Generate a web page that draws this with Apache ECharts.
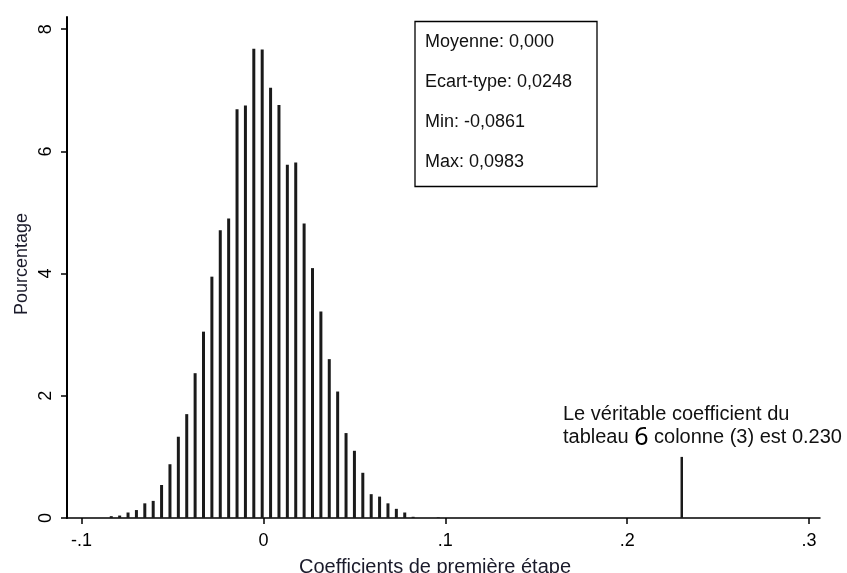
<!DOCTYPE html>
<html><head><meta charset="utf-8">
<script src="https://cdn.jsdelivr.net/npm/echarts@6/dist/echarts.min.js"></script>
<style>html,body{margin:0;padding:0;background:#fff}#c{width:847px;height:573px}</style>
</head><body><div id="c"></div>
<script>
// Histogram bin centres (40 bins between -0.0861 and 0.0983)
const binCenters = [-0.08380,-0.07919,-0.07458,-0.06997,-0.06536,-0.06075,-0.05614,-0.05153,-0.04692,-0.04231,
  -0.03770,-0.03309,-0.02848,-0.02387,-0.01926,-0.01465,-0.01004,-0.00543,-0.00082,0.00379,
  0.00840,0.01301,0.01762,0.02223,0.02684,0.03145,0.03606,0.04067,0.04528,0.04989,
  0.05450,0.05911,0.06372,0.06833,0.07294,0.07755,0.08216,0.08677,0.09138,0.09599];
// Percentage in each bin
const percentages = [0.03,0.04,0.09,0.13,0.24,0.28,0.54,0.88,1.33,1.70,
  2.37,3.05,3.95,4.71,4.90,6.69,6.75,7.68,7.67,7.04,
  6.76,5.78,5.82,4.82,4.09,3.38,2.60,2.07,1.39,1.10,
  0.74,0.39,0.35,0.24,0.15,0.09,0.02,0,0,0.01];
// True coefficient spike
const trueCoefX = [0.230];
const trueCoefHeight = [1.0];
// Ticks
const xTickValues = [-0.1, 0, 0.1, 0.2, 0.3];
const xTickLabels = ['-.1', '0', '.1', '.2', '.3'];
const yTickValues = [0, 2, 4, 6, 8];
const yTickLabels = ['0', '2', '4', '6', '8'];
// Texts
const statsLines = ['Moyenne: 0,000', 'Ecart-type: 0,0248', 'Min: -0,0861', 'Max: 0,0983'];
const noteLine1 = 'Le véritable coefficient du';
const noteLine2 = ['tableau ', '6', ' colonne (3) est 0.230'];
const xTitle = 'Coefficients de première étape';
const yTitle = 'Pourcentage';

const FONT = "'Liberation Sans', Arial, sans-serif";
const chart = echarts.init(document.getElementById('c'));

function lookup(vals, labels) {
  return function (v) {
    const i = vals.findIndex(t => Math.abs(t - v) < 1e-9);
    return i >= 0 ? labels[i] : '';
  };
}

const histData = binCenters.map((x, i) => [x, percentages[i]]);
const spikeData = trueCoefX.map((x, i) => [x, trueCoefHeight[i]]);

const statsGraphics = statsLines.map((t, i) => ({
  type: 'text', left: 425, top: 42.7 + i * 40.2 - 10,
  style: { text: t, font: '18px ' + FONT, fill: '#111', textVerticalAlign: 'top' }
}));

chart.setOption({
  animation: false,
  backgroundColor: '#fff',
  grid: { left: 67, right: 27, top: 17, bottom: 55, containLabel: false },
  xAxis: {
    type: 'value', min: -0.108, max: 0.306,
    axisLine: { show: true, onZero: false, lineStyle: { color: '#000', width: 1.5 } },
    axisTick: { show: true, customValues: xTickValues, length: 6, lineStyle: { color: '#000', width: 1.5 } },
    axisLabel: { customValues: xTickValues, formatter: lookup(xTickValues, xTickLabels),
      fontSize: 18, fontFamily: FONT, color: '#000', margin: 14 },
    splitLine: { show: false }
  },
  yAxis: {
    type: 'value', min: 0, max: 8.2,
    axisLine: { show: true, onZero: false, lineStyle: { color: '#000', width: 2 } },
    axisTick: { show: true, customValues: yTickValues, length: 6, lineStyle: { color: '#000', width: 1.5 } },
    axisLabel: { customValues: yTickValues, formatter: lookup(yTickValues, yTickLabels), rotate: 90,
      fontSize: 18, fontFamily: FONT, color: '#000', margin: 12 },
    splitLine: { show: false }
  },
  series: [
    { type: 'bar', data: histData, barWidth: 3, barGap: '-100%',
      itemStyle: { color: '#1a1a1a' } },
    { type: 'bar', data: spikeData, barWidth: 2.5, barGap: '-100%',
      itemStyle: { color: '#1a1a1a' } }
  ],
  graphic: [
    { type: 'rect', shape: { x: 415, y: 21.5, width: 182, height: 165 },
      style: { fill: 'none', stroke: '#000', lineWidth: 1.3 } },
    ...statsGraphics,
    { type: 'text', left: 563, top: 404,
      style: { text: noteLine1, font: '20px ' + FONT, fill: '#111' } },
    { type: 'text', left: 563, top: 425,
      style: {
        text: '{a|' + noteLine2[0] + '}{b|' + noteLine2[1] + '}{a|' + noteLine2[2] + '}',
        rich: {
          a: { fontSize: 20, fontFamily: FONT, fill: '#111', color: '#111' },
          b: { fontSize: 25, fontFamily: "'Noto Sans', sans-serif", fill: '#000', color: '#000' }
        }
      } },
    { type: 'text', x: 435, y: 567,
      style: { text: xTitle, font: '20px ' + FONT, fill: '#1a1a2a', textAlign: 'center', textVerticalAlign: 'middle' } },
    { type: 'text', x: 22, y: 264, rotation: Math.PI / 2,
      style: { text: yTitle, font: '18px ' + FONT, fill: '#1a1a2a', textAlign: 'center', textVerticalAlign: 'middle' } }
  ]
});
</script></body></html>
